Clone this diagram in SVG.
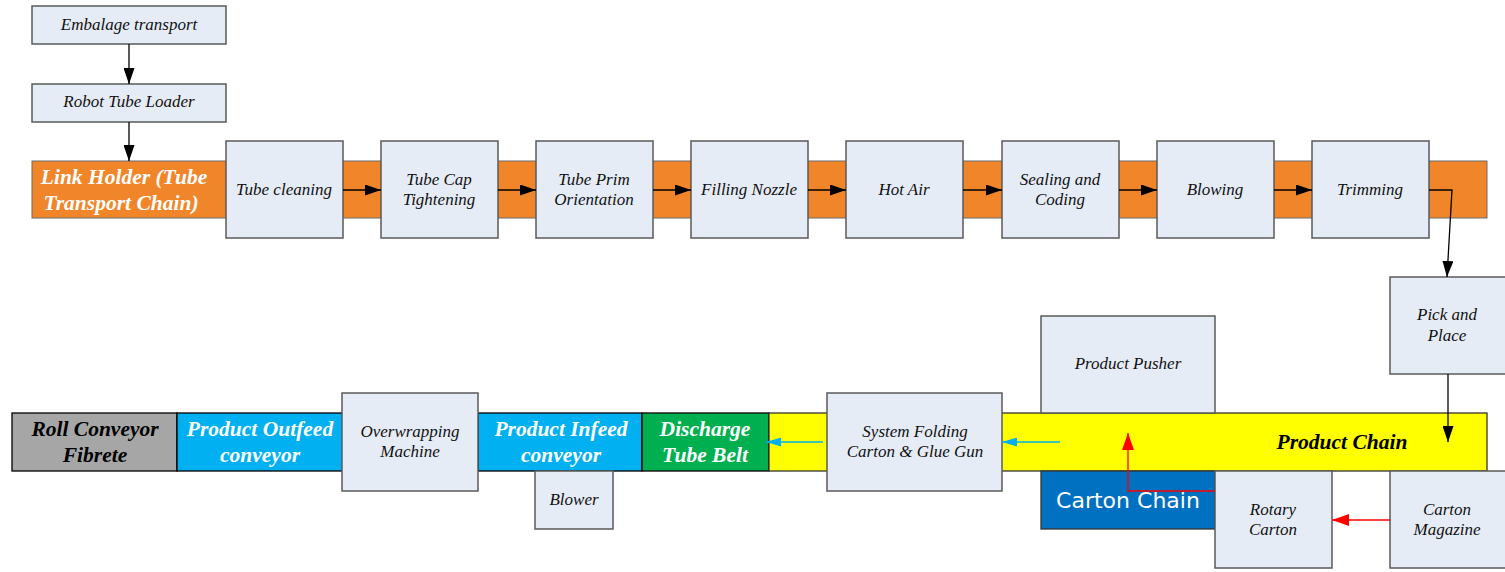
<svg xmlns="http://www.w3.org/2000/svg" width="1505" height="572" viewBox="0 0 1505 572">
<style>
.box{fill:#e6ecf6;stroke:#5a5a5a;stroke-width:1.5}
.t{font-family:"Liberation Serif",serif;font-style:italic;font-size:17px;fill:#111;text-anchor:middle}
.b{font-family:"Liberation Serif",serif;font-style:italic;font-weight:bold;font-size:21.5px;text-anchor:middle}
.w{fill:#fff}
.k{fill:#000}
.ln{fill:none;stroke:#000;stroke-width:1.3}
.lr{fill:none;stroke:#ff0000;stroke-width:1.3}
.lb{fill:none;stroke:#00b0f0;stroke-width:1.3}
</style>
<defs>
<marker id="ak" markerUnits="userSpaceOnUse" markerWidth="16" markerHeight="11" refX="16" refY="5.5" orient="auto"><path d="M0,0 L16,5.5 L0,11 z" fill="#000"/></marker>
<marker id="ar" markerUnits="userSpaceOnUse" markerWidth="17" markerHeight="12" refX="17" refY="6" orient="auto"><path d="M0,0 L17,6 L0,12 z" fill="#ff0000"/></marker>
<marker id="ab" markerUnits="userSpaceOnUse" markerWidth="15" markerHeight="9" refX="15" refY="4.5" orient="auto"><path d="M0,0 L15,4.5 L0,9 z" fill="#00b0f0"/></marker>
</defs>
<rect width="1505" height="572" fill="#fff"/>

<g id="link-holder">
<rect x="32" y="161" width="1455" height="57" fill="#f0852a" stroke="#6b6b6b" stroke-width="1"/>
<text class="b w" x="124" y="184">Link Holder (Tube</text>
<text class="b w" x="121" y="210">Transport Chain)</text>
</g>
<g id="roll-conveyor">
<rect x="12" y="413" width="165" height="58" fill="#a6a6a6" stroke="#000" stroke-width="1.3"/>
<text class="b k" x="95" y="436">Roll Conveyor</text>
<text class="b k" x="95" y="462">Fibrete</text>
</g>
<g id="product-outfeed">
<rect x="177" y="413" width="166" height="58" fill="#00b0f0" stroke="#000" stroke-width="1.3"/>
<text class="b w" x="260" y="436">Product Outfeed</text>
<text class="b w" x="260" y="462">conveyor</text>
</g>
<g id="product-infeed">
<rect x="478" y="413" width="164" height="58" fill="#00b0f0" stroke="#000" stroke-width="1.3"/>
<text class="b w" x="561" y="436">Product Infeed</text>
<text class="b w" x="561" y="462">conveyor</text>
</g>
<g id="discharge">
<rect x="642" y="413" width="127" height="58" fill="#00b050" stroke="#000" stroke-width="1.3"/>
<text class="b w" x="705" y="436">Discharge</text>
<text class="b w" x="705" y="462">Tube Belt</text>
</g>
<g id="product-chain">
<rect x="769" y="413" width="718" height="58" fill="#ffff00" stroke="#333" stroke-width="1.3"/>
<text class="b k" x="1342" y="449">Product Chain</text>
</g>
<g id="carton-chain">
<rect x="1041" y="471" width="174" height="58" fill="#0070c0" stroke="#333" stroke-width="1.3"/>
<text x="1128" y="508" font-family="'DejaVu Sans',sans-serif" font-size="22" fill="#fff" text-anchor="middle">Carton Chain</text>
</g>

<g id="embalage"><rect class="box" x="32" y="6" width="194" height="38"/><text class="t" x="129" y="30">Embalage transport</text></g>
<g id="robot"><rect class="box" x="32" y="84" width="194" height="38"/><text class="t" x="129" y="107">Robot Tube Loader</text></g>
<g id="tube-cleaning"><rect class="box" x="226" y="141" width="117" height="97"/><text class="t" x="284" y="195">Tube cleaning</text></g>
<g id="tube-cap"><rect class="box" x="381" y="141" width="117" height="97"/><text class="t" x="439" y="185">Tube Cap</text><text class="t" x="439" y="205">Tightening</text></g>
<g id="tube-prim"><rect class="box" x="536" y="141" width="117" height="97"/><text class="t" x="594" y="185">Tube Prim</text><text class="t" x="594" y="205">Orientation</text></g>
<g id="filling"><rect class="box" x="691" y="141" width="117" height="97"/><text class="t" x="749" y="195">Filling Nozzle</text></g>
<g id="hot-air"><rect class="box" x="846" y="141" width="117" height="97"/><text class="t" x="904" y="195">Hot Air</text></g>
<g id="sealing"><rect class="box" x="1002" y="141" width="117" height="97"/><text class="t" x="1060" y="185">Sealing and</text><text class="t" x="1060" y="205">Coding</text></g>
<g id="blowing"><rect class="box" x="1157" y="141" width="117" height="97"/><text class="t" x="1215" y="195">Blowing</text></g>
<g id="trimming"><rect class="box" x="1312" y="141" width="117" height="97"/><text class="t" x="1370" y="195">Trimming</text></g>
<g id="pick-place"><rect class="box" x="1390" y="277" width="120" height="97"/><text class="t" x="1447" y="320">Pick and</text><text class="t" x="1447" y="341">Place</text></g>
<g id="product-pusher"><rect class="box" x="1041" y="316" width="174" height="97"/><text class="t" x="1128" y="369">Product Pusher</text></g>
<g id="overwrapping"><rect class="box" x="342" y="393" width="136" height="98"/><text class="t" x="410" y="437">Overwrapping</text><text class="t" x="410" y="457">Machine</text></g>
<g id="blower"><rect class="box" x="535" y="471" width="78" height="58"/><text class="t" x="574" y="505">Blower</text></g>
<g id="system-folding"><rect class="box" x="827" y="393" width="175" height="98"/><text class="t" x="915" y="437">System Folding</text><text class="t" x="915" y="457">Carton &amp; Glue Gun</text></g>
<g id="rotary"><rect class="box" x="1215" y="471" width="117" height="97"/><text class="t" x="1273" y="515">Rotary</text><text class="t" x="1273" y="535">Carton</text></g>
<g id="magazine"><rect class="box" x="1390" y="471" width="120" height="97"/><text class="t" x="1447" y="515">Carton</text><text class="t" x="1447" y="535">Magazine</text></g>

<g id="connectors">
<path class="ln" d="M129,44 V84" marker-end="url(#ak)"/>
<path class="ln" d="M129,122 V161" marker-end="url(#ak)"/>
<path class="ln" d="M343,190 H381" marker-end="url(#ak)"/>
<path class="ln" d="M498,190 H536" marker-end="url(#ak)"/>
<path class="ln" d="M653,190 H691" marker-end="url(#ak)"/>
<path class="ln" d="M808,190 H846" marker-end="url(#ak)"/>
<path class="ln" d="M963,190 H1002" marker-end="url(#ak)"/>
<path class="ln" d="M1119,190 H1157" marker-end="url(#ak)"/>
<path class="ln" d="M1274,190 H1312" marker-end="url(#ak)"/>
<path class="ln" d="M1429,190 H1452 L1447,277" marker-end="url(#ak)"/>
<path class="ln" d="M1448,374 V442" stroke="#444" marker-end="url(#ak)"/>
<path class="lb" d="M1060,442 H1002" marker-end="url(#ab)"/>
<path class="lb" d="M823,442 H766" marker-end="url(#ab)"/>
<path class="lr" d="M1390,520 H1332" marker-end="url(#ar)"/>
<path class="lr" d="M1215,491 H1128 V433" marker-end="url(#ar)"/>
</g>
</svg>
